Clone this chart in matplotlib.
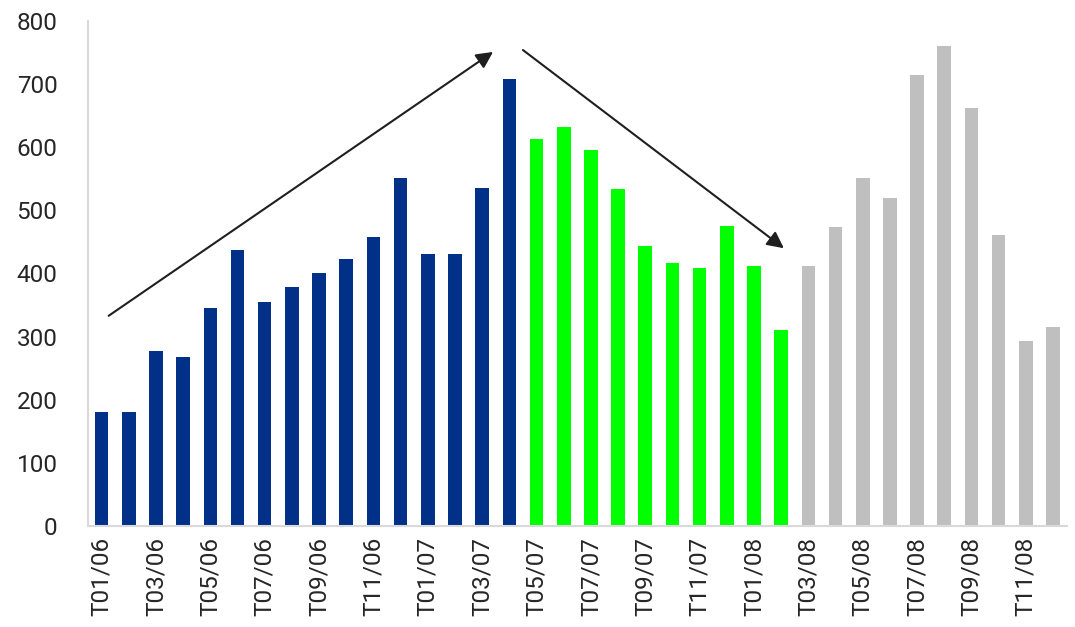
import matplotlib
matplotlib.use("Agg")
import matplotlib.pyplot as plt
import numpy as np

plt.rcParams['font.family'] = ['Roboto', 'DejaVu Sans']

# monthly values, T01/06 -> T12/08
months = [f"T{m:02d}/{y:02d}" for y in (6, 7, 8) for m in range(1, 13)]
blue_vals = [180, 180, 277, 267, 345, 438, 355, 379, 401, 423, 458, 551,
             431, 431, 536, 708]
green_vals = [613, 632, 595, 534, 444, 417, 408, 475, 412, 310]
grey_vals = [412, 474, 551, 520, 714, 760, 662, 461, 293, 316]

# arrows: (x0, y0) -> (x1, y1) in data units
arrow_up = ((0.26, 333), (14.4, 751))
arrow_down = ((15.5, 754), (25.1, 440))

fig = plt.figure(figsize=(10.75, 6.27), dpi=100)
ax = fig.add_axes([88/1075, 1 - 526/627, (1066.6-88)/1075, (526-21)/627])

x = np.arange(len(months))
nb, ng = len(blue_vals), len(green_vals)
ax.bar(x[:nb], blue_vals, width=0.5, color="#003087")
ax.bar(x[nb:nb+ng], green_vals, width=0.5, color="#00FF00")
ax.bar(x[nb+ng:], grey_vals, width=0.5, color="#BFBFBF")

for (x0, y0), (x1, y1) in (arrow_up, arrow_down):
    ax.annotate("", xy=(x1, y1), xytext=(x0, y0),
                arrowprops=dict(arrowstyle="-|>", color="#1f1f1f", lw=1.5,
                                mutation_scale=25, shrinkA=0, shrinkB=0))

ax.set_xlim(-0.5, len(months) - 0.5)
ax.set_ylim(0, 800)
ax.set_yticks(range(0, 801, 100))
ax.set_xticks(x[::2])
ax.set_xticklabels(months[::2], rotation=90)
ax.tick_params(axis="both", length=0, labelsize=17.5, colors="#262626")
ax.tick_params(axis="y", pad=22)
ax.tick_params(axis="x", pad=8)
for s in ("top", "right"):
    ax.spines[s].set_visible(False)
for s in ("left", "bottom"):
    ax.spines[s].set_color("#D9D9D9")
    ax.spines[s].set_linewidth(1.5)

fig.savefig("out.png", dpi=100)
